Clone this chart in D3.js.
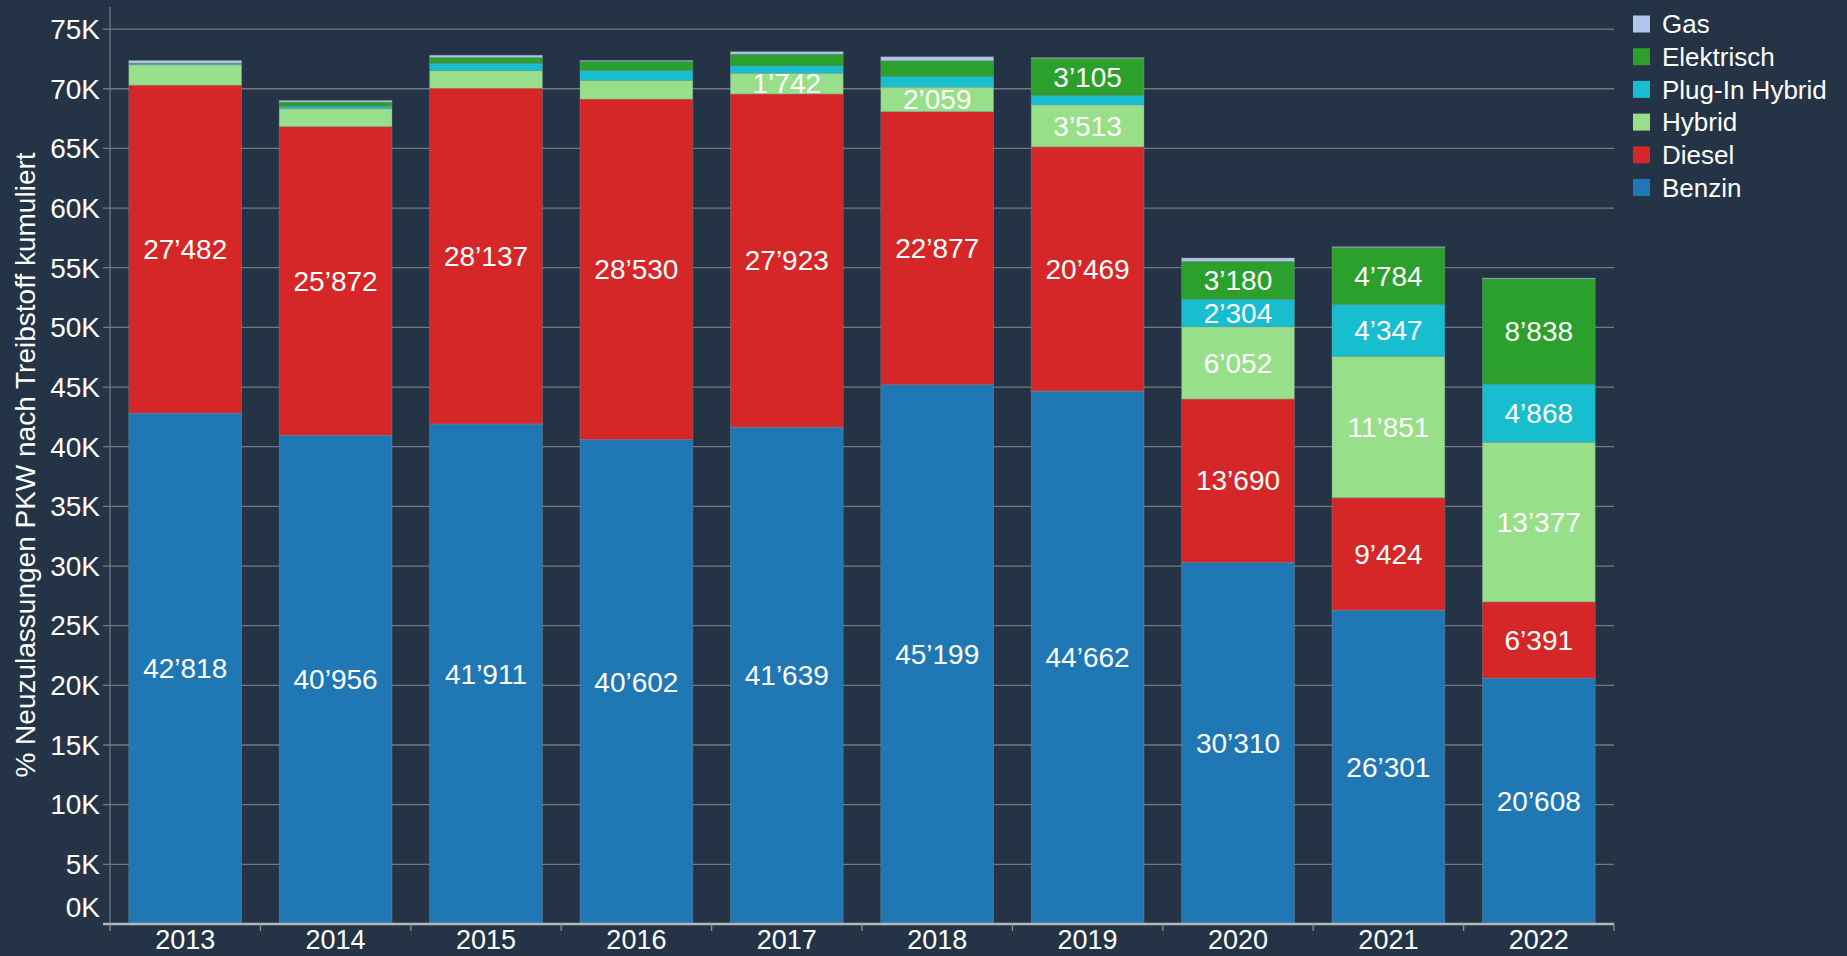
<!DOCTYPE html>
<html>
<head>
<meta charset="utf-8">
<script src="https://cdn.jsdelivr.net/npm/d3@7"></script>
<style>
  html, body { margin: 0; padding: 0; background: #243446; }
  svg { display: block; font-family: "Liberation Sans", Arial, sans-serif; }
</style>
</head>
<body>
<svg id="chart"></svg>
<script>
const width = 1847;
const height = 956;

// Neuzulassungen PKW pro Jahr und Treibstoff
const years = [2013, 2014, 2015, 2016, 2017, 2018, 2019, 2020, 2021, 2022];
const benzin = [42818, 40956, 41911, 40602, 41639, 45199, 44662, 30310, 26301, 20608];
const diesel = [27482, 25872, 28137, 28530, 27923, 22877, 20469, 13690, 9424, 6391];
const hybrid = [1700, 1500, 1470, 1580, 1742, 2059, 3513, 6052, 11851, 13377];
const pluginHybrid = [70, 200, 610, 810, 620, 900, 800, 2304, 4347, 4868];
const elektrisch = [80, 360, 500, 780, 980, 1310, 3105, 3180, 4784, 8838];
const gas = [220, 130, 180, 60, 200, 330, 50, 280, 50, 50];

const keys = ["Benzin", "Diesel", "Hybrid", "Plug-In Hybrid", "Elektrisch", "Gas"];
const colors = ["#1f77b4", "#d62728", "#98df8a", "#17becf", "#2ca02c", "#aec7e8"];
const yTicks = d3.range(0, 75001, 5000);

const rows = years.map((y, i) => ({
    year: y,
    "Benzin": benzin[i],
    "Diesel": diesel[i],
    "Hybrid": hybrid[i],
    "Plug-In Hybrid": pluginHybrid[i],
    "Elektrisch": elektrisch[i],
    "Gas": gas[i]
}));

const svg = d3.select("#chart")
    .attr("width", width)
    .attr("height", height);

const x = d3.scaleBand()
    .domain(years)
    .range([110, 1614])
    .paddingInner(0.25)
    .paddingOuter(0.125);

const y = d3.scaleLinear()
    .domain([0, 76850])
    .range([924, 7]);

const color = d3.scaleOrdinal().domain(keys).range(colors);

const fmt = d3.formatLocale({ decimal: ".", thousands: "’", grouping: [3], currency: ["", ""] }).format(",d");

// gitternetz
svg.append("g")
    .selectAll("line")
    .data(yTicks.filter(d => d > 0))
    .join("line")
    .attr("x1", 103)
    .attr("x2", 1614)
    .attr("y1", d => y(d))
    .attr("y2", d => y(d))
    .attr("stroke", "#73787e")
    .attr("stroke-width", 1.3);

// y achse
svg.append("line")
    .attr("x1", 110).attr("x2", 110)
    .attr("y1", 7).attr("y2", 924)
    .attr("stroke", "#73787e")
    .attr("stroke-width", 1.3);

svg.append("g")
    .selectAll("text")
    .data(yTicks)
    .join("text")
    .attr("x", 100)
    .attr("y", d => d === 0 ? y(d) - 17 : y(d))
    .attr("dy", "0.35em")
    .attr("text-anchor", "end")
    .attr("fill", "#ffffff")
    .attr("font-size", 28)
    .text(d => (d / 1000) + "K");

svg.append("text")
    .attr("transform", "translate(25,465) rotate(-90)")
    .attr("text-anchor", "middle")
    .attr("dominant-baseline", "central")
    .attr("fill", "#ffffff")
    .attr("font-size", 28)
    .text("% Neuzulassungen PKW nach Treibstoff kumuliert");

// gestapelte balken
const series = d3.stack().keys(keys)(rows);

const layer = svg.append("g")
    .selectAll("g")
    .data(series)
    .join("g")
    .attr("fill", d => color(d.key));

layer.selectAll("rect")
    .data(d => d)
    .join("rect")
    .attr("x", d => x(d.data.year))
    .attr("width", x.bandwidth())
    .attr("y", d => y(d[1]))
    .attr("height", d => y(d[0]) - y(d[1]))
    .attr("stroke", "rgba(140,150,160,0.45)")
    .attr("stroke-width", 0.8);

// werte in den balken
const labels = [];
series.forEach(s => s.forEach(d => {
    const v = d[1] - d[0];
    if (v >= 1740) labels.push({ year: d.data.year, v: v, mid: (d[0] + d[1]) / 2 });
}));

svg.append("g")
    .selectAll("text")
    .data(labels)
    .join("text")
    .attr("x", d => x(d.year) + x.bandwidth() / 2)
    .attr("y", d => y(d.mid))
    .attr("dy", "0.35em")
    .attr("text-anchor", "middle")
    .attr("fill", "#ffffff")
    .attr("font-size", 28)
    .text(d => fmt(d.v));

// x achse
svg.append("line")
    .attr("x1", 103).attr("x2", 1614)
    .attr("y1", 924).attr("y2", 924)
    .attr("stroke", "#b4b8bd")
    .attr("stroke-width", 2.5);

const bounds = d3.range(years.length + 1).map(i => 110 + i * x.step());
svg.append("g")
    .selectAll("line")
    .data(bounds)
    .join("line")
    .attr("x1", d => d).attr("x2", d => d)
    .attr("y1", 924).attr("y2", 931)
    .attr("stroke", "#8a8f95")
    .attr("stroke-width", 1.3);

svg.append("g")
    .selectAll("text")
    .data(years)
    .join("text")
    .attr("x", d => x(d) + x.bandwidth() / 2)
    .attr("y", 949)
    .attr("text-anchor", "middle")
    .attr("fill", "#ffffff")
    .attr("font-size", 27)
    .text(d => d);

// legende
const legendKeys = keys.slice().reverse();
const legend = svg.append("g")
    .selectAll("g")
    .data(legendKeys)
    .join("g")
    .attr("transform", (d, i) => `translate(1633,${24 + i * 32.7})`);

legend.append("rect")
    .attr("x", 0)
    .attr("y", -8.5)
    .attr("width", 17)
    .attr("height", 17)
    .attr("fill", d => color(d));

legend.append("text")
    .attr("x", 29)
    .attr("y", 0)
    .attr("dy", "0.35em")
    .attr("fill", "#ffffff")
    .attr("font-size", 26)
    .text(d => d);
</script>
</body>
</html>
